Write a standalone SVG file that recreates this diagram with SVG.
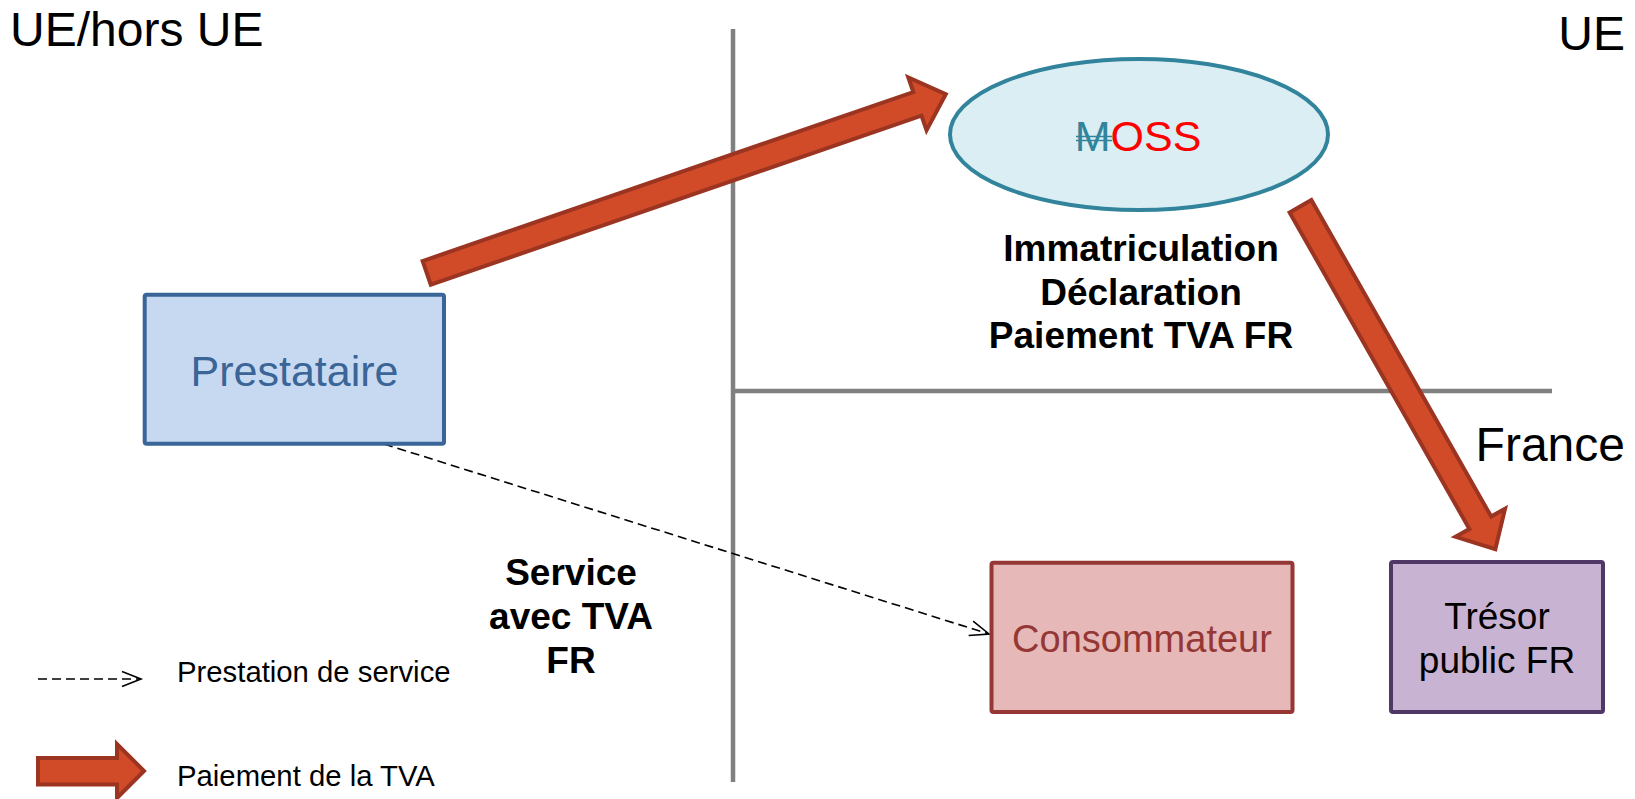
<svg xmlns="http://www.w3.org/2000/svg" width="1635" height="799" viewBox="0 0 1635 799">
  <style>
    text { font-family: "Liberation Sans", Arial, Helvetica, sans-serif; }
    .region { font-size: 48px; fill: #000; }
    .note { font-size: 37px; font-weight: bold; fill: #000; text-anchor: middle; }
    .legend { font-size: 29.3px; fill: #000; }
    .divider { stroke: #808080; stroke-width: 4.5; fill: none; }
    .pay { fill: #d14b29; stroke: #9b3421; stroke-width: 4; stroke-linejoin: miter; }
    .svc { stroke: #000; stroke-width: 1.6; stroke-dasharray: 9 5; fill: none; }
  </style>
  <defs>
    <marker id="open-head" markerUnits="userSpaceOnUse" markerWidth="30" markerHeight="24"
            viewBox="-22 -12 26 24" refX="0" refY="0" orient="auto">
      <path d="M-19,-7.5 L0,0 L-19,7.5" fill="none" stroke="#000" stroke-width="1.6" stroke-dasharray="none"/>
    </marker>
  </defs>

  <rect width="1635" height="799" fill="#fff"/>

  <!-- zone dividers -->
  <g id="dividers">
    <line class="divider" x1="733" y1="29" x2="733" y2="782"/>
    <line class="divider" x1="733" y1="391" x2="1552" y2="391"/>
  </g>

  <!-- zone labels -->
  <g id="zone-labels">
    <text class="region" x="10" y="46">UE/hors UE</text>
    <text class="region" x="1625" y="50" text-anchor="end">UE</text>
    <text class="region" x="1625" y="461" text-anchor="end">France</text>
  </g>

  <!-- connectors -->
  <g id="connectors">
    <!-- VAT payment: supplier to one-stop shop -->
    <polygon class="pay" transform="translate(424.8,273.5) rotate(-19)"
             points="2,-12.5 521,-12.5 521,-28 551,0 521,28 521,12.5 2,12.5"/>
    <!-- VAT payment: one-stop shop to treasury -->
    <polygon class="pay" transform="translate(1299.5,204.5) rotate(60.4)"
             points="2,-12.5 366,-12.5 366,-28.5 396.5,0 366,28.5 366,12.5 2,12.5"/>
    <!-- service delivery -->
    <line class="svc" x1="384" y1="444" x2="989" y2="634" marker-end="url(#open-head)"/>
  </g>

  <g id="prestataire">
    <rect x="144.7" y="294.7" width="299.3" height="149" rx="2" fill="#c6d9f1" stroke="#3a6598" stroke-width="4"/>
    <text x="294.5" y="386" font-size="43" fill="#3b6497" text-anchor="middle">Prestataire</text>
  </g>

  <g id="moss">
    <ellipse cx="1139" cy="134.5" rx="189" ry="75.5" fill="#daeef3" stroke="#31849b" stroke-width="4"/>
    <text x="1138" y="151" font-size="43" text-anchor="middle"><tspan fill="#31849b">M</tspan><tspan fill="#ff0000">OSS</tspan></text>
    <line x1="1076" y1="136.5" x2="1112" y2="136.5" stroke="#31849b" stroke-width="1.6"/>
    <line x1="1076" y1="140.5" x2="1112" y2="140.5" stroke="#31849b" stroke-width="1.6"/>
  </g>

  <g id="moss-steps">
    <text class="note" x="1141" y="261">Immatriculation</text>
    <text class="note" x="1141" y="304.5">Déclaration</text>
    <text class="note" x="1141" y="348">Paiement TVA FR</text>
  </g>

  <g id="service-label">
    <text class="note" x="571" y="585">Service</text>
    <text class="note" x="571" y="629">avec TVA</text>
    <text class="note" x="571" y="673">FR</text>
  </g>

  <g id="consommateur">
    <rect x="991.5" y="562.7" width="301" height="149.3" rx="2" fill="#e6b9b8" stroke="#953735" stroke-width="4"/>
    <text x="1142" y="652" font-size="38" fill="#953735" text-anchor="middle">Consommateur</text>
  </g>

  <g id="tresor">
    <rect x="1391" y="562" width="212" height="150" rx="2" fill="#c8b4d2" stroke="#4f3866" stroke-width="4"/>
    <text x="1497" y="629" font-size="37" fill="#000" text-anchor="middle">Trésor</text>
    <text x="1497" y="673" font-size="37" fill="#000" text-anchor="middle">public FR</text>
  </g>

  <!-- legend -->
  <g id="legend">
    <line class="svc" x1="38" y1="679" x2="141" y2="679" marker-end="url(#open-head)"/>
    <text class="legend" x="177" y="682">Prestation de service</text>
    <polygon class="pay" points="38,758 117,758 117,744 144,771 117,798 117,784.5 38,784.5"/>
    <text class="legend" x="177" y="786">Paiement de la TVA</text>
  </g>
</svg>
